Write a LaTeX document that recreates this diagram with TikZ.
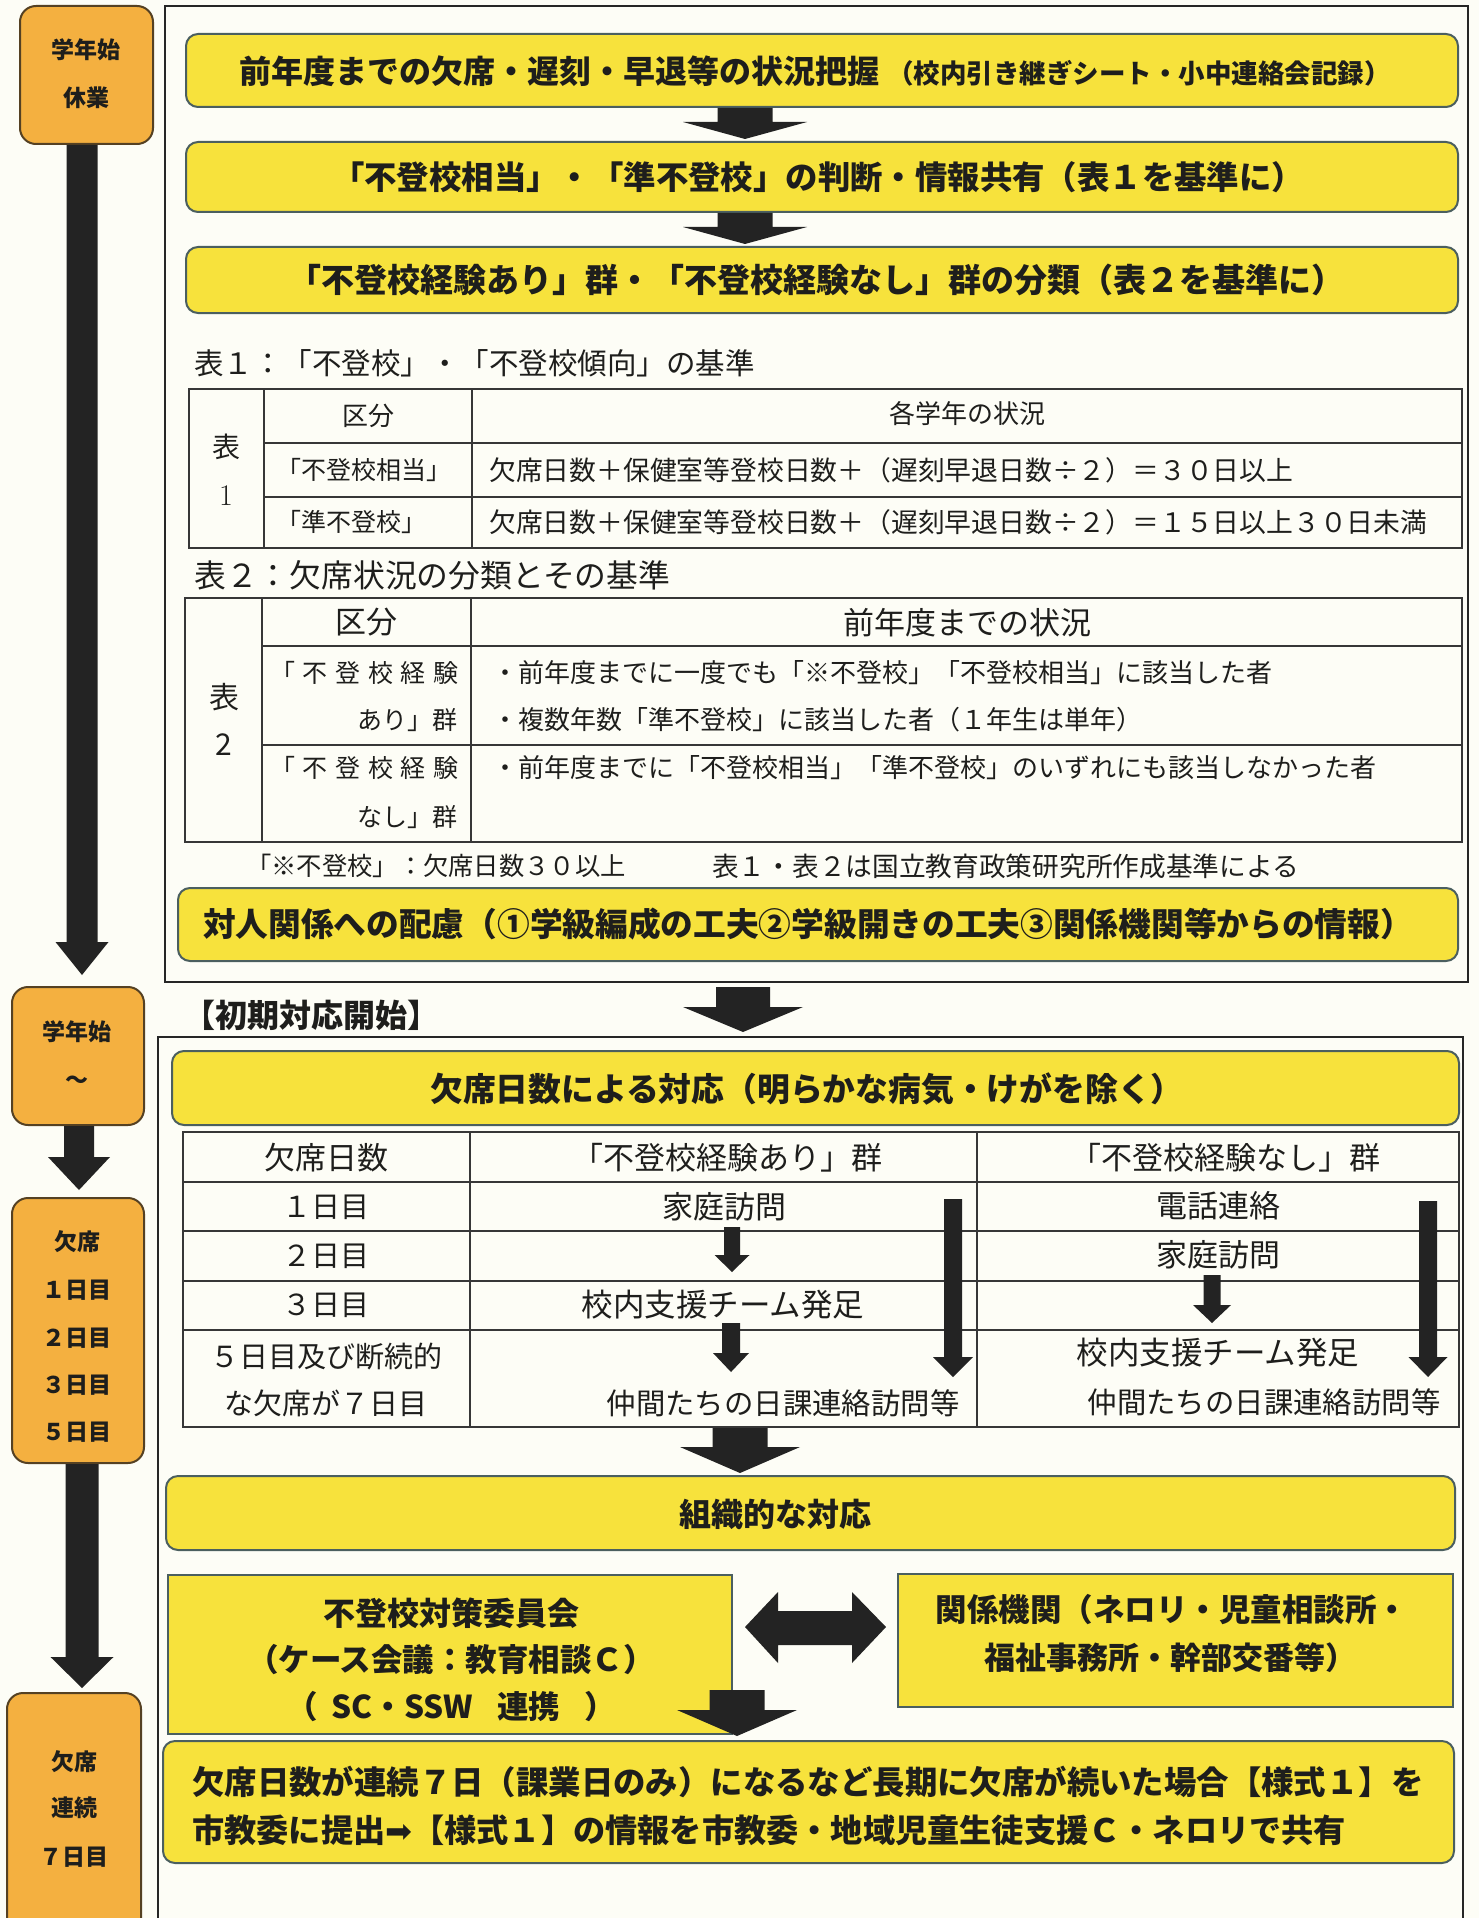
\documentclass[tikz,border=0pt]{standalone}
\usepackage{fontspec}
\newfontfamily\jp{Noto Sans CJK JP}
\newfontfamily\dv{DejaVu Sans}
\usetikzlibrary{fit}
\definecolor{bgc}{RGB}{253,253,246}
\definecolor{yel}{RGB}{247,226,60}
\definecolor{org}{RGB}{244,176,64}
\definecolor{ybord}{RGB}{75,95,95}
\definecolor{obord}{RGB}{85,65,35}
\definecolor{arrowc}{RGB}{35,35,35}
\definecolor{lnc}{RGB}{55,55,55}
\definecolor{txc}{RGB}{30,30,28}
\newcommand\jfs[1]{\fontsize{#1}{#1}\selectfont}
\newcommand\blockdown[6]{\fill[arrowc] ({#1-#5},#2) -- ({#1+#5},#2) -- ({#1+#5},#3) -- ({#1+#6},#3) -- (#1,#4) -- ({#1-#6},#3) -- ({#1-#5},#3) -- cycle;}
\tikzset{
  ybox/.style={draw=ybord, line width=2pt, fill=yel, rounded corners=12pt, inner sep=0pt},
  ysq/.style={draw=ybord, line width=2pt, fill=yel, inner sep=0pt},
  obox/.style={draw=obord, line width=2pt, fill=org, rounded corners=16pt, inner sep=0pt},
  frame/.style={draw=black!85, line width=2.2pt},
  tline/.style={draw=lnc, line width=1.6pt},
  txt/.style={inner sep=0pt, text=txc},
  otxt/.style={inner sep=0pt, text=txc, font=\jp\bfseries\jfs{23}},
}
\begin{document}
\begin{tikzpicture}[x=1pt,y=-1pt]
\useasboundingbox (0,0) rectangle (1479,1918);
\fill[bgc] (0,0) rectangle (1479,1918);
\begin{scope}
\clip (0,0) rectangle (1479,1918);

% ---------- frames ----------
\draw[frame] (165,6) rectangle (1468,982);
\draw[frame] (158,1960) -- (158,1037) -- (1463,1037) -- (1463,1960);

% ---------- left column ----------
\node[obox, fit={(20,6) (153,144)}] (o1) {};
\node[otxt] (o1a) at (86,50) {学年始};
\node[otxt] (o1b) at (86,98) {休業};
\node[obox, fit={(12,987) (144,1125)}] (o2) {};
\node[otxt] (o2a) at (77,1032) {学年始};
\node[otxt] (o2b) at (77,1082) {～};
\node[obox, fit={(12,1198) (144,1463)}] (o3) {};
\node[otxt] (o3a) at (77,1242) {欠席};
\node[otxt] (o3b) at (77,1290) {１日目};
\node[otxt] (o3c) at (77,1338) {２日目};
\node[otxt] (o3d) at (77,1385) {３日目};
\node[otxt] (o3e) at (77,1432) {５日目};
\node[obox, fit={(7,1693) (141,1990)}] (o4) {};
\node[otxt] (o4a) at (74,1762) {欠席};
\node[otxt] (o4b) at (74,1808) {連続};
\node[otxt] (o4c) at (74,1857) {７日目};
\blockdown{82}{145}{942}{975}{15.5}{26.5}
\blockdown{79}{1126}{1157}{1190}{15}{31}
\blockdown{82}{1464}{1657}{1688}{16.5}{31.5}

% ---------- top yellow boxes ----------
\node[ybox, fit={(186,34) (1458,107)}] (y1) {};
\node[txt, font=\jp\bfseries] (y1t) at (815,71) {\jfs{32}前年度までの欠席・遅刻・早退等の状況把握\hspace{8pt}\jfs{26.5}（校内引き継ぎシート・小中連絡会記録）};
\node[ybox, fit={(186,142) (1458,212)}] (y2) {};
\node[txt, font=\jp\bfseries\jfs{32.4}] (y2t) at (818,177) {「不登校相当」・「準不登校」の判断・情報共有（表１を基準に）};
\node[ybox, fit={(186,247) (1458,313)}] (y3) {};
\node[txt, font=\jp\bfseries\jfs{33}] (y3t) at (816,280) {「不登校経験あり」群・「不登校経験なし」群の分類（表２を基準に）};
\blockdown{745}{108}{122}{139}{27.5}{62}
\blockdown{745}{213}{227}{244}{27.5}{62}

% ---------- table 1 ----------
\node[txt, anchor=west, font=\jp\jfs{29.5}] (cap1) at (194,363) {表１：「不登校」・「不登校傾向」の基準};
\draw[tline] (189,389) rectangle (1462,548);
\draw[tline] (264,389) -- (264,548) (472,389) -- (472,548) (264,443) -- (1462,443) (264,497) -- (1462,497);
\node[txt, font=\jp\jfs{28}] (t1a) at (226,447) {表};
\node[txt, font=\rmfamily\jfs{30}] (t1b) at (226,496) {1};
\node[txt, font=\jp\jfs{26}] (t1h1) at (368,416) {区分};
\node[txt, font=\jp\jfs{26}] (t1h2) at (967,414) {各学年の状況};
\node[txt, anchor=west, font=\jp\jfs{25}] (t1r1) at (276,470) {「不登校相当」};
\node[txt, anchor=west, font=\jp\jfs{25}] (t1r2) at (276,522) {「準不登校」};
\node[txt, anchor=west, font=\jp\jfs{26.8}] (t1f1) at (489,470) {欠席日数＋保健室等登校日数＋（遅刻早退日数÷２）＝３０日以上};
\node[txt, anchor=west, font=\jp\jfs{26.8}] (t1f2) at (489,522) {欠席日数＋保健室等登校日数＋（遅刻早退日数÷２）＝１５日以上３０日未満};

% ---------- table 2 ----------
\node[txt, anchor=west, font=\jp\jfs{31.8}] (cap2) at (194,575) {表２：欠席状況の分類とその基準};
\draw[tline] (185,598) rectangle (1462,842);
\draw[tline] (262,598) -- (262,842) (471,598) -- (471,842) (262,646) -- (1462,646) (262,745) -- (1462,745);
\node[txt, font=\jp\jfs{30}] (t2a) at (224,697) {表};
\node[txt, font=\jp\jfs{30}] (t2b) at (224,745) {2};
\node[txt, font=\jp\jfs{31}] (t2h1) at (366,622) {区分};
\node[txt, font=\jp\jfs{31}] (t2h2) at (967,623) {前年度までの状況};
\node[txt, anchor=west, font=\jp\jfs{25}] (t2c1) at (270,673) {\makebox[188pt][l]{「\hfill 不\hfill 登\hfill 校\hfill 経\hfill 験}};
\node[txt, anchor=east, font=\jp\jfs{25}] (t2c2) at (458,720) {あり」群};
\node[txt, anchor=west, font=\jp\jfs{25}] (t2c3) at (270,768) {\makebox[188pt][l]{「\hfill 不\hfill 登\hfill 校\hfill 経\hfill 験}};
\node[txt, anchor=east, font=\jp\jfs{25}] (t2c4) at (458,817) {なし」群};
\node[txt, anchor=west, font=\jp\jfs{26}] (t2d1) at (492,673) {・前年度までに一度でも「※不登校」「不登校相当」に該当した者};
\node[txt, anchor=west, font=\jp\jfs{26}] (t2d2) at (492,720) {・複数年数「準不登校」に該当した者（１年生は単年）};
\node[txt, anchor=west, font=\jp\jfs{26}] (t2d3) at (492,768) {・前年度までに「不登校相当」「準不登校」のいずれにも該当しなかった者};

\node[txt, anchor=west, font=\jp\jfs{25.3}] (fn1) at (246,866) {「※不登校」：欠席日数３０以上};
\node[txt, anchor=west, font=\jp\jfs{26.7}] (fn2) at (712,866) {表１・表２は国立教育政策研究所作成基準による};

\node[ybox, fit={(178,888) (1458,961)}] (y4) {};
\node[txt, font=\jp\bfseries\jfs{32.7}] (y4t) at (808,924) {対人関係への配慮（①学級編成の工夫②学級開きの工夫③関係機関等からの情報）};

% ---------- lower part ----------
\blockdown{743}{987}{1007}{1032}{27}{60}
\node[txt, anchor=west, font=\jp\bfseries\jfs{32}] (start) at (183,1015) {【初期対応開始】};

\node[ybox, fit={(172,1051) (1459,1125)}] (y5) {};
\node[txt, font=\jp\bfseries\jfs{32.8}] (y5t) at (807,1089) {欠席日数による対応（明らかな病気・けがを除く）};

% table 3
\draw[tline] (183,1132) rectangle (1459,1427);
\draw[tline] (470,1132) -- (470,1427) (977,1132) -- (977,1427);
\foreach \yy in {1182,1231,1281,1330} \draw[tline] (183,\yy) -- (1459,\yy);
\node[txt, font=\jp\jfs{31}] (h0) at (326,1158) {欠席日数};
\node[txt, font=\jp\jfs{31}] (h1) at (727,1158) {「不登校経験あり」群};
\node[txt, font=\jp\jfs{31}] (h2) at (1225,1158) {「不登校経験なし」群};
\node[txt, font=\jp\jfs{29}] (d1) at (326,1207) {１日目};
\node[txt, font=\jp\jfs{29}] (d2) at (326,1256) {２日目};
\node[txt, font=\jp\jfs{29}] (d3) at (326,1305) {３日目};
\node[txt, font=\jp\jfs{29}] (d4) at (326,1357) {５日目及び断続的};
\node[txt, font=\jp\jfs{29}] (d5) at (326,1403) {な欠席が７日目};
\node[txt, font=\jp\jfs{31}] (a1) at (724,1207) {家庭訪問};
\node[txt, font=\jp\jfs{31.5}] (a3) at (723,1305) {校内支援チーム発足};
\node[txt, font=\jp\jfs{29.4}] (a5) at (783,1403) {仲間たちの日課連絡訪問等};
\node[txt, font=\jp\jfs{31}] (n1) at (1218,1206) {電話連絡};
\node[txt, font=\jp\jfs{31}] (n2) at (1218,1255) {家庭訪問};
\node[txt, font=\jp\jfs{31.5}] (n4) at (1218,1353) {校内支援チーム発足};
\node[txt, font=\jp\jfs{29.4}] (n5) at (1264,1402) {仲間たちの日課連絡訪問等};
\blockdown{732}{1227}{1255}{1272}{8}{17.5}
\blockdown{731}{1323}{1353}{1372}{9}{18}
\blockdown{1212}{1275}{1305}{1323}{8.5}{19}
\blockdown{953}{1199}{1357}{1377}{9}{20}
\blockdown{1428}{1201}{1357}{1377}{9}{19.5}
\blockdown{740}{1428}{1447}{1473}{27.5}{60}

\node[ybox, fit={(166,1476) (1455,1550)}] (y6) {};
\node[txt, font=\jp\bfseries\jfs{32}] (y6t) at (775,1514) {組織的な対応};

\node[ysq, fit={(168,1575) (732,1734)}] (y7) {};
\node[txt, font=\jp\bfseries\jfs{32}] (y7a) at (451,1613) {不登校対策委員会};
\node[txt, font=\jp\bfseries\jfs{31.5}] (y7b) at (451,1660) {（ケース会議：教育相談Ｃ）};
\node[txt, font=\jp\bfseries\jfs{31.5}] (y7c) at (451,1707) {（\hspace{14pt}SC・SSW\hspace{24pt}連携\hspace{24pt}）};

\node[ysq, fit={(898,1574) (1453,1707)}] (y8) {};
\node[txt, font=\jp\bfseries\jfs{31.5}] (y8a) at (1172,1610) {関係機関（ネロリ・児童相談所・};
\node[txt, font=\jp\bfseries\jfs{31}] (y8b) at (1170,1658) {福祉事務所・幹部交番等）};

\fill[arrowc] (745,1627) -- (778,1592) -- (778,1611) -- (852,1611) -- (852,1592) -- (886,1627) -- (852,1663) -- (852,1645) -- (778,1645) -- (778,1663) -- cycle;

\node[ybox, fit={(163,1741) (1454,1863)}] (y9) {};
\node[txt, anchor=west, font=\jp\bfseries\jfs{32.4}] (y9a) at (192,1782) {欠席日数が連続７日（課業日のみ）になるなど長期に欠席が続いた場合【様式１】を};
\node[txt, anchor=west, font=\jp\bfseries\jfs{32.2}] (y9b) at (192,1830) {市教委に提出{\dv\mdseries ➡}【様式１】の情報を市教委・地域児童生徒支援Ｃ・ネロリで共有};
\blockdown{737}{1690}{1710}{1736}{27.5}{60}

\end{scope}
\end{tikzpicture}
\end{document}
